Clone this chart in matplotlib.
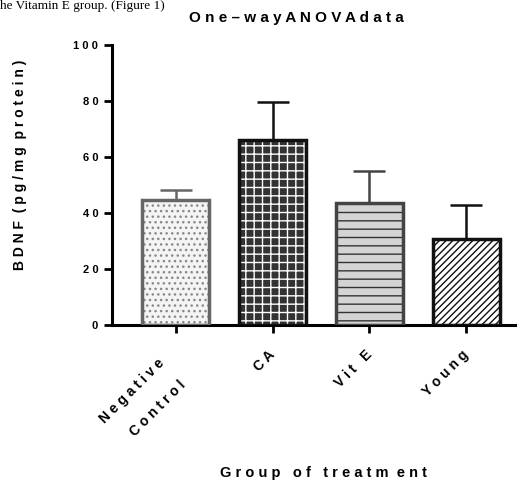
import matplotlib.pyplot as plt
from matplotlib.transforms import ScaledTranslation
import numpy as np

plt.rcParams['font.family'] = ['Liberation Sans', 'DejaVu Sans']

# dados
groups = ["Negative\nControl", "CA", "Vit E", "Young"]
means = [44.6, 66.1, 43.6, 30.7]
sem = [3.6, 13.5, 11.4, 12.2]
y_ticks = [0, 20, 40, 60, 80, 100]

def spaced(s):
    # estilo Prism: letras espaçadas
    return "\n".join(" ".join(line) for line in s.split("\n"))

fills = ["#f4f4f4", "#333333", "#d4d4d4", "#ffffff"]
hatch_colors = ["#888888", "#ffffff", "#333333", "#111111"]
hatches = ["...", "++", "--", "/////"]
edges = ["#666666", "#111111", "#444444", "#111111"]

fig = plt.figure(figsize=(5.26, 4.82), dpi=100)
ax = fig.add_axes([0.213, 0.326, 0.766, 0.581])

x = np.arange(len(groups))
plt.rcParams['hatch.linewidth'] = 1.0
for i in range(len(groups)):
    # preenchimento + hachura
    ax.bar(x[i], means[i], width=0.7, color=fills[i], edgecolor=hatch_colors[i],
           hatch=hatches[i], linewidth=0, zorder=2)
    # contorno
    ax.bar(x[i], means[i], width=0.7, color="none", edgecolor=edges[i],
           linewidth=2.5, zorder=3)
    ax.errorbar(x[i], means[i], yerr=[[0], [sem[i]]], color=edges[i],
                capsize=11.5, elinewidth=1.8, capthick=1.8, zorder=1)

ax.set_xlim(-0.655, 3.5)
ax.set_ylim(0, 100)
ax.set_yticks(y_ticks)
ax.set_yticklabels([spaced(str(v)) for v in y_ticks], fontsize=8, fontweight="bold")
ax.set_xticks(x)
ax.set_xticklabels([spaced(g) for g in groups], rotation=45, ha="right",
                   va="center", rotation_mode="anchor", fontsize=10,
                   fontweight="bold", multialignment="right", linespacing=2.5)
for s in ["top", "right"]:
    ax.spines[s].set_visible(False)
for s in ["left", "bottom"]:
    ax.spines[s].set_linewidth(2.2)
ax.tick_params(width=2, length=6, pad=4)
ax.tick_params(axis="x", pad=14)

# rótulo de duas linhas fica mais baixo no original
lab = ax.get_xticklabels()[0]
lab.set_transform(lab.get_transform() +
                  ScaledTranslation(-0.03, -0.19, fig.dpi_scale_trans))

fig.text(0.563, 0.963, spaced("One–wayANOVAdata"), ha="center", va="center",
         fontsize=11, fontweight="bold")
fig.text(0.038, 0.658, "B D N F  ( p g / m g  p r o t e i n )", rotation=90,
         ha="center", va="center", fontsize=10, fontweight="bold")
fig.text(0.614, 0.019, "G r o u p   o f   t r e a t m  e n t", ha="center",
         va="center", fontsize=10.5, fontweight="bold")
# texto do documento original no topo
fig.text(0.0, 0.999, "he Vitamin E group. (Figure 1)", ha="left", va="top",
         fontsize=9.5, family="Liberation Serif")

fig.savefig("out.png", dpi=100)
